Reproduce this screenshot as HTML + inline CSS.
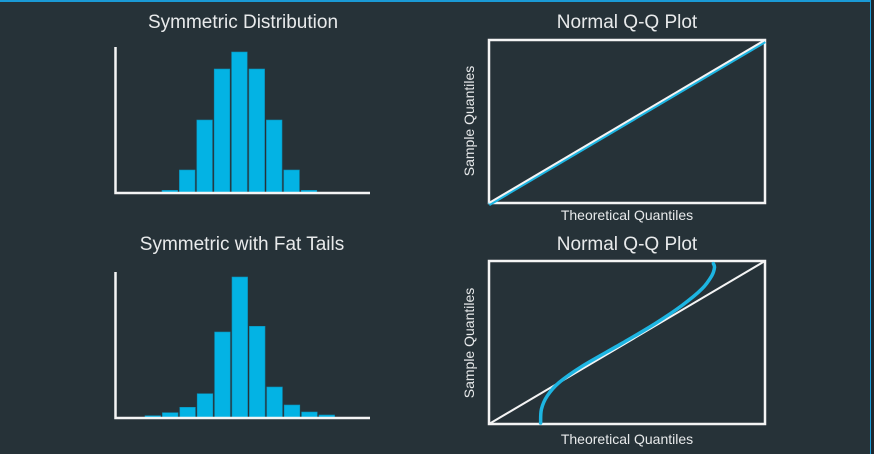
<!DOCTYPE html>
<html><head><meta charset="utf-8"><style>
html,body{margin:0;padding:0;background:#263238;}
svg{display:block;font-family:"Liberation Sans",sans-serif;}
</style></head><body>
<svg id="c" width="874" height="454">
<rect x="0" y="0" width="874" height="454" fill="#263238"/>
<line x1="0" y1="1" x2="871" y2="1" stroke="#1a9ad6" stroke-width="2"/>
<line x1="870.5" y1="0" x2="870.5" y2="454" stroke="#1a9ad6" stroke-width="1"/>
<rect x="871" y="0" width="3" height="454" fill="#1e272d"/>
<text x="243" y="28" fill="#e8eaeb" font-size="19" text-anchor="middle">Symmetric Distribution</text>
<text x="242" y="250" fill="#e8eaeb" font-size="19" text-anchor="middle">Symmetric with Fat Tails</text>
<text x="627" y="28" fill="#e8eaeb" font-size="19" text-anchor="middle">Normal Q-Q Plot</text>
<text x="627" y="250" fill="#e8eaeb" font-size="19" text-anchor="middle">Normal Q-Q Plot</text>
<text x="627" y="220" fill="#e8eaeb" font-size="14" text-anchor="middle">Theoretical Quantiles</text>
<text x="627" y="444" fill="#e8eaeb" font-size="14" text-anchor="middle">Theoretical Quantiles</text>
<text transform="translate(474,121) rotate(-90)" fill="#e8eaeb" font-size="14" text-anchor="middle">Sample Quantiles</text>
<text transform="translate(474,343) rotate(-90)" fill="#e8eaeb" font-size="14" text-anchor="middle">Sample Quantiles</text>
<g id="g"></g>
</svg>
<script>
const symHeights=[2.7,23,73,124,141,124,73,23,2.7];
const fatHeights=[2.3,5.3,10.7,24.3,86,141,91.7,31,13,6,3];
const qqCurveX=[0.187,0.190,0.211,0.253,0.337,0.482,0.602,0.699,0.771,0.807,0.817,0.813];
const qqCurveY=[0.006,0.091,0.172,0.253,0.354,0.495,0.616,0.727,0.828,0.909,0.960,0.984];
const qqLineX=[0,1];
const qqLineY=[0,1];
const NS="http://www.w3.org/2000/svg";
const g=document.getElementById('g');
function mk(t,a){const e=document.createElementNS(NS,t);for(const k in a)e.setAttribute(k,a[k]);g.appendChild(e);return e;}
function hist(arr,firstX,base,prefix){
  const step=17.4,w=15.6;
  arr.forEach((h,i)=>{
    const r=mk('rect',{x:firstX+i*step,y:base-h,width:w,height:h,fill:'#03b3e4',stroke:'#0a8fb8','stroke-width':0.6});
    
    
  });
  const a=mk('path',{d:`M115.5 ${base-146} V${base} H370`,fill:'none',stroke:'#f4f4f4','stroke-width':2.5});
  
  
}
hist(symHeights,162,193,'symmetric');
hist(fatHeights,145,418,'fat-tails');
function qq(x0,y0,x1,y1,curve,prefix){
  const sx=v=>x0+v*(x1-x0), sy=v=>y1-v*(y1-y0);
  const b=mk('rect',{x:x0,y:y0,width:x1-x0,height:y1-y0,fill:'none',stroke:'#f4f4f4','stroke-width':2.5});
  
  
  if(!curve){
    const l2=mk('line',{x1:sx(qqLineX[0]),y1:sy(qqLineY[0])+1.5,x2:sx(qqLineX[1]),y2:sy(qqLineY[1])+1.5,stroke:'#1db5e2','stroke-width':3.5});
    
    
  }
  const l=mk('line',{x1:sx(qqLineX[0]),y1:sy(qqLineY[0]),x2:sx(qqLineX[1]),y2:sy(qqLineY[1]),stroke:'#f4f4f4','stroke-width':2});
  
  
  if(curve){
    const P=qqCurveX.map((v,i)=>[sx(v),sy(qqCurveY[i])]);
    let d=`M${P[0][0]} ${P[0][1]}`;
    for(let i=0;i<P.length-1;i++){
      const p0=P[Math.max(i-1,0)],p1=P[i],p2=P[i+1],p3=P[Math.min(i+2,P.length-1)];
      d+=` C${p1[0]+(p2[0]-p0[0])/6} ${p1[1]+(p2[1]-p0[1])/6} ${p2[0]-(p3[0]-p1[0])/6} ${p2[1]-(p3[1]-p1[1])/6} ${p2[0]} ${p2[1]}`;
    }
    const c=mk('path',{d:d,fill:'none',stroke:'#1db5e2','stroke-width':3.5,'stroke-linecap':'round'});
    
    
  }
}
qq(489,40,765,203,false,'qq-top');
qq(489,261,765,424,true,'qq-bottom');
</script>
</body></html>
